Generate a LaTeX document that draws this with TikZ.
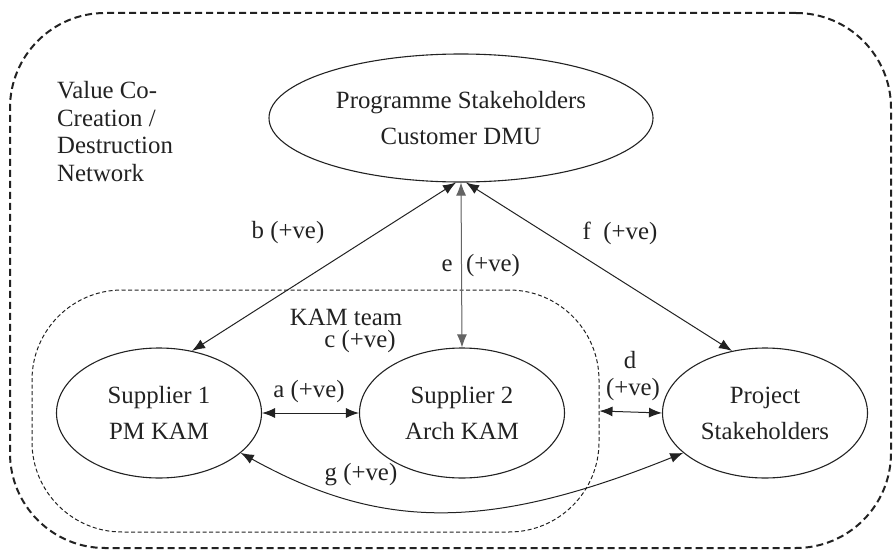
\documentclass[tikz,border=0pt]{standalone}
\usepackage{fontspec}
\setmainfont{Liberation Serif}
\newfontfamily\figserif{Liberation Serif}
\usetikzlibrary{shapes.geometric,arrows.meta}
\definecolor{ink}{HTML}{222222}
\tikzset{
  every node/.style={text=ink, font=\figserif\fontsize{24.8}{36}\selectfont},
  actor/.style={ellipse, draw=ink, line width=1.1pt, inner sep=0pt, align=center},
  lbl/.style={inner sep=0pt},
  tip/.style={Latex[length=13pt,width=10pt]},
  link/.style={draw=ink, line width=1pt, {Latex[length=13pt,width=10pt]}-{Latex[length=13pt,width=10pt]}},
  outerzone/.style={draw=ink, line width=2pt, dash pattern=on 7pt off 4pt, rounded corners=95pt},
  innerzone/.style={draw=ink, line width=1pt, dash pattern=on 4pt off 2.5pt, rounded corners=90pt}
}
\begin{document}
\begin{tikzpicture}[x=1pt,y=-1pt]
\useasboundingbox (0,0) rectangle (894,551);

% network boundary and KAM team boundary
\node[outerzone, minimum width=881pt, minimum height=535pt] (network) at (450.5,280.5) {};
\node[innerzone, minimum width=567pt, minimum height=242pt] (team) at (315.5,411) {};

% stakeholders
\node[actor, minimum width=384pt, minimum height=128pt] (prog) at (461,118) {Programme Stakeholders\\Customer DMU};
\node[actor, minimum width=205pt, minimum height=130pt] (sup1) at (159,413) {Supplier 1\\PM KAM};
\node[actor, minimum width=205pt, minimum height=130pt] (sup2) at (462,413) {Supplier 2\\Arch KAM};
\node[actor, minimum width=205pt, minimum height=130pt] (proj) at (765,413) {Project\\Stakeholders};

% network caption
\node[lbl, anchor=west, align=left, font=\figserif\fontsize{24.8}{27.7}\selectfont] (title) at (57,131.5)
  {Value Co-\\Creation /\\Destruction\\Network};

% relationships
\draw[link] ([xshift=-5pt]prog.south) -- (sup1.62);
\draw[link, draw=ink!70, fill=ink!70] (prog.south) -- (sup2.north);
\draw[link] ([xshift=5pt]prog.south) -- (proj.118);
\draw[link] (sup1.east) -- (sup2.west);
\draw[link] (team.east) -- (proj.west);
\draw[link] (sup1.-26) .. controls (380,530) and (487,532) .. (proj.206);

% relationship labels
\node[lbl] (lb) at (288,233) {b (+ve)};
\node[lbl] (le) at (447,266) {e};
\node[lbl] (lev) at (493,266) {(+ve)};
\node[lbl] (lf) at (620,233) {f\ \ (+ve)};
\node[lbl] (lteam) at (346,317) {KAM team};
\node[lbl] (lc) at (360,342) {c (+ve)};
\node[lbl] (la) at (309,392) {a (+ve)};
\node[lbl] (ld) at (630,360) {d};
\node[lbl] (ldv) at (633,390) {(+ve)};
\node[lbl] (lg) at (361,475) {g (+ve)};
\end{tikzpicture}
\end{document}
